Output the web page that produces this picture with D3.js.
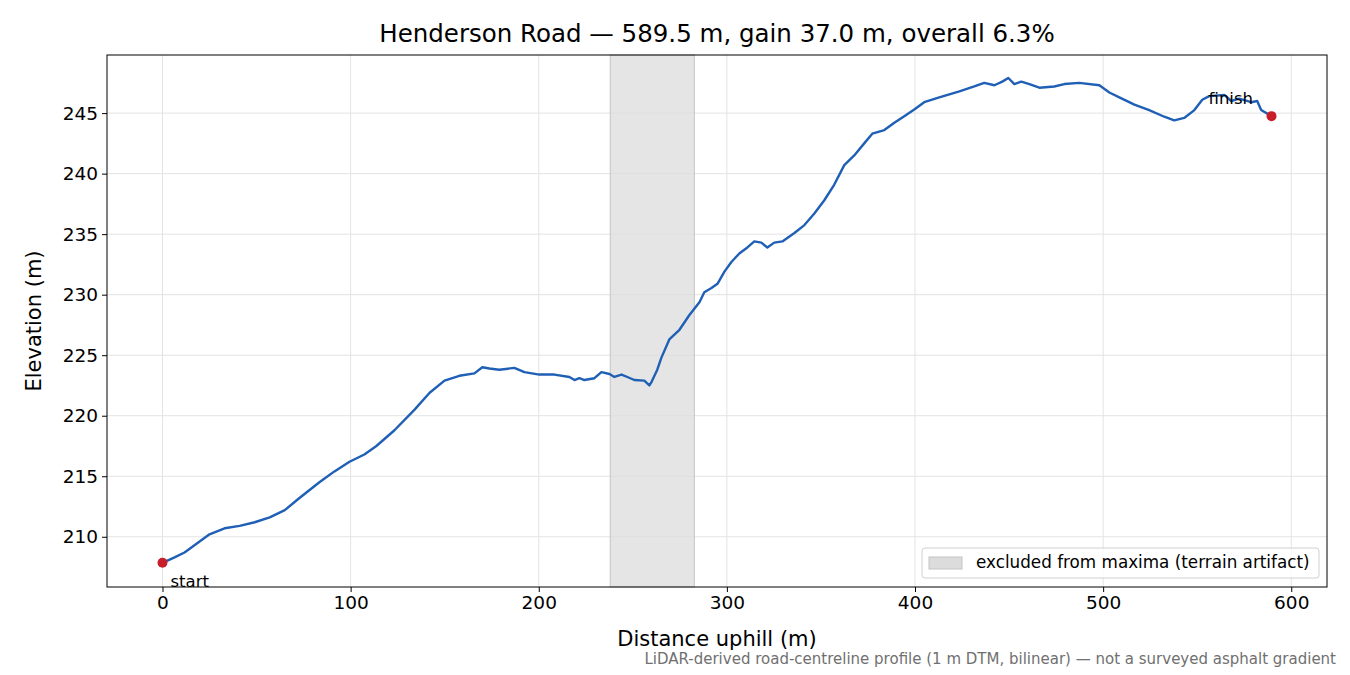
<!DOCTYPE html>
<html>
<head>
<meta charset="utf-8">
<script src="https://cdn.jsdelivr.net/npm/d3@7"></script>
<style>
  body { margin: 0; background: #fff; }
  text { font-family: "DejaVu Sans", sans-serif; }
</style>
</head>
<body>
<svg id="chart" width="1350" height="675"></svg>
<script>
// profile: distance uphill (m) and elevation (m)
const distance = [0, 6.4, 11.7, 17, 25, 33, 41, 49, 57, 65, 72.8, 83.4, 91.4, 99.4, 107.3, 113.7, 123.3, 134, 142, 149.9,
  157.8, 165.8, 170, 173.8, 179, 187, 192.4, 200.3, 208.3, 216.3, 219, 221.6, 224.3, 229.6, 233.3, 237.6, 240.2, 244, 247.1, 250.8,
  256.1, 258.8, 260, 263, 265.2, 269.4, 274.8, 280, 285.5, 288, 291.8, 295, 298.7, 302.4, 306.6, 310.9, 314.6, 318.3, 321.5, 325.2,
  329.5, 335.9, 341.2, 346.5, 351.8, 357.1, 362.4, 367.7, 373, 377.3, 383.7, 389, 394.3, 399.6, 404.9, 412.9, 423.6, 431.5, 436.8, 442.2,
  446.4, 449.6, 452.8, 456.5, 460.8, 466.1, 474, 479.4, 487.3, 498, 503.3, 508.6, 516.6, 524.5, 532.5, 537.8, 543.1, 548.5, 552.7, 556.4,
  564.4, 568.1, 572.3, 578.7, 581.9, 584, 589.5];
const elevation = [207.85, 208.3, 208.7, 209.3, 210.2, 210.7, 210.9, 211.2, 211.6, 212.2, 213.2, 214.5, 215.4, 216.2, 216.8, 217.5, 218.8, 220.5, 221.9, 222.9,
  223.3, 223.5, 224.0, 223.9, 223.8, 223.95, 223.6, 223.4, 223.4, 223.2, 222.95, 223.1, 222.95, 223.1, 223.6, 223.45, 223.2, 223.4, 223.2, 222.95,
  222.9, 222.5, 222.8, 223.8, 224.8, 226.3, 227.1, 228.3, 229.4, 230.2, 230.55, 230.9, 231.9, 232.7, 233.4, 233.9, 234.4, 234.3, 233.9, 234.3,
  234.4, 235.1, 235.75, 236.7, 237.8, 239.1, 240.7, 241.5, 242.5, 243.3, 243.6, 244.2, 244.75, 245.3, 245.9, 246.3, 246.8, 247.2, 247.5, 247.3,
  247.6, 247.9, 247.4, 247.6, 247.4, 247.1, 247.2, 247.4, 247.5, 247.3, 246.7, 246.3, 245.7, 245.25, 244.7, 244.4, 244.6, 245.25, 246.1, 246.4,
  246.5, 246.0, 246.2, 245.9, 246.0, 245.25, 244.75];
const excluded = [238, 282.7];
const xTicks = [0, 100, 200, 300, 400, 500, 600];
const yTicks = [210, 215, 220, 225, 230, 235, 240, 245];

const svg = d3.select("#chart");
const m = { left: 107, right: 1327, top: 55, bottom: 587 };

const x = d3.scaleLinear().domain([-29.5, 619]).range([m.left, m.right]);
const y = d3.scaleLinear().domain([205.85, 249.8]).range([m.bottom, m.top]);

// grid
svg.append("g").selectAll("line").data(xTicks).join("line")
  .attr("x1", d => x(d)).attr("x2", d => x(d)).attr("y1", m.top).attr("y2", m.bottom)
  .attr("stroke", "#e3e3e3").attr("stroke-width", 1);
svg.append("g").selectAll("line").data(yTicks).join("line")
  .attr("y1", d => y(d)).attr("y2", d => y(d)).attr("x1", m.left).attr("x2", m.right)
  .attr("stroke", "#e3e3e3").attr("stroke-width", 1);

// excluded band
svg.append("rect")
  .attr("x", x(excluded[0])).attr("width", x(excluded[1]) - x(excluded[0]))
  .attr("y", m.top).attr("height", m.bottom - m.top)
  .attr("fill", "#dcdcdc").attr("fill-opacity", 0.75)
  .attr("stroke", "#c4c4c4").attr("stroke-width", 1);

// profile line
const pts = distance.map((d, i) => [d, elevation[i]]);
svg.append("path").datum(pts)
  .attr("d", d3.line().x(d => x(d[0])).y(d => y(d[1])))
  .attr("fill", "none").attr("stroke", "#1f5fb5").attr("stroke-width", 2.4)
  .attr("stroke-linejoin", "round");

// end points
const first = pts[0], last = pts[pts.length - 1];
svg.selectAll("circle.end").data([first, last]).join("circle")
  .attr("cx", d => x(d[0])).attr("cy", d => y(d[1])).attr("r", 5).attr("fill", "#c81e2a");
svg.append("text").attr("x", x(first[0]) + 8).attr("y", y(first[1]) + 24)
  .attr("font-size", 16.5).text("start");
svg.append("text").attr("x", x(last[0]) - 63).attr("y", y(last[1]) - 12)
  .attr("font-size", 16.5).text("finish");

// axes
const xAxis = svg.append("g").attr("transform", `translate(0,${m.bottom})`)
  .call(d3.axisBottom(x).tickValues(xTicks).tickSize(5).tickPadding(4));
const yAxis = svg.append("g").attr("transform", `translate(${m.left},0)`)
  .call(d3.axisLeft(y).tickValues(yTicks).tickSize(5).tickPadding(4));
[xAxis, yAxis].forEach(a => {
  a.select(".domain").remove();
  a.selectAll("text").attr("font-size", 18.5).attr("font-family", "DejaVu Sans").attr("fill", "#000");
});
svg.append("rect").attr("x", m.left).attr("y", m.top)
  .attr("width", m.right - m.left).attr("height", m.bottom - m.top)
  .attr("fill", "none").attr("stroke", "#000").attr("stroke-width", 1);

// labels
svg.append("text").attr("x", (m.left + m.right) / 2).attr("y", 42).attr("text-anchor", "middle")
  .attr("font-size", 24.5).text("Henderson Road \u2014 589.5 m, gain 37.0 m, overall 6.3%");
svg.append("text").attr("x", (m.left + m.right) / 2).attr("y", 646).attr("text-anchor", "middle")
  .attr("font-size", 21).text("Distance uphill (m)");
svg.append("text").attr("transform", `translate(41,${(m.top + m.bottom) / 2}) rotate(-90)`)
  .attr("text-anchor", "middle").attr("font-size", 21).text("Elevation (m)");
svg.append("text").attr("x", 1336).attr("y", 664).attr("text-anchor", "end")
  .attr("font-size", 15).attr("fill", "#707070")
  .text("LiDAR-derived road-centreline profile (1 m DTM, bilinear) \u2014 not a surveyed asphalt gradient");

// legend
const lg = svg.append("g").attr("transform", "translate(922,548)");
lg.append("rect").attr("width", 397).attr("height", 30).attr("rx", 3)
  .attr("fill", "#fff").attr("fill-opacity", 0.8).attr("stroke", "#d0d0d0");
lg.append("rect").attr("x", 7).attr("y", 9).attr("width", 33).attr("height", 12)
  .attr("fill", "#dcdcdc").attr("stroke", "#c4c4c4");
lg.append("text").attr("x", 54).attr("y", 20).attr("font-size", 16.8)
  .text("excluded from maxima (terrain artifact)");
</script>
</body>
</html>
